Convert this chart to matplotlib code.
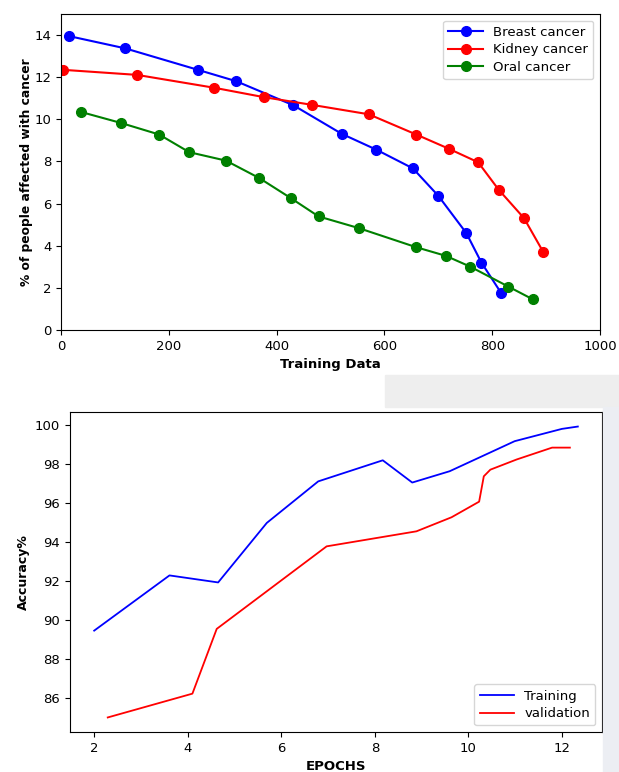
import numpy as np
import matplotlib.pyplot as plt
from matplotlib.patches import Rectangle

# cancer incidence vs. training data size
breast_x = [15, 119, 254, 325, 431, 521, 585, 653, 700, 752, 780, 817]
breast_y = [13.95, 13.37, 12.35, 11.81, 10.67, 9.31, 8.56, 7.67, 6.37, 4.60, 3.20, 1.74]

kidney_x = [4, 141, 284, 377, 465, 571, 659, 719, 774, 812, 859, 895]
kidney_y = [12.35, 12.11, 11.50, 11.05, 10.69, 10.24, 9.28, 8.61, 7.96, 6.66, 5.31, 3.69]

oral_x = [37, 111, 182, 238, 306, 368, 427, 478, 552, 659, 714, 759, 830, 875]
oral_y = [10.35, 9.83, 9.28, 8.44, 8.04, 7.21, 6.25, 5.39, 4.84, 3.93, 3.52, 3.01, 2.06, 1.46]

# accuracy per epoch
train_ep = [2.0, 3.61, 4.65, 5.69, 6.79, 8.17, 8.80, 9.60, 10.99, 12.0, 12.34]
train_acc = [89.47, 92.30, 91.94, 94.99, 97.12, 98.20, 97.06, 97.64, 99.18, 99.81, 99.93]

val_ep = [2.29, 4.10, 4.62, 6.97, 8.89, 9.64, 10.23, 10.33, 10.47, 11.03, 11.79, 12.17]
val_acc = [85.02, 86.24, 89.56, 93.79, 94.56, 95.28, 96.08, 97.38, 97.72, 98.24, 98.85, 98.85]

fig = plt.figure(figsize=(6.19, 7.72), dpi=100)
W, H = 619, 772

# faded backdrop behind the lower plot
fig.patches.append(Rectangle((385 / W, 1 - 407 / H), 234 / W, 32 / H,
                             transform=fig.transFigure, color='#eeeeee', zorder=0))
fig.patches.append(Rectangle((603 / W, 0), 16 / W, 1 - 407 / H,
                             transform=fig.transFigure, color='#eceef3', zorder=0))

ax1 = fig.add_axes([61 / W, 1 - 330 / H, 539 / W, 316 / H])
ax1.plot(breast_x, breast_y, 'o-', color='blue', label='Breast cancer', markersize=7, linewidth=1.5)
ax1.plot(kidney_x, kidney_y, 'o-', color='red', label='Kidney cancer', markersize=7, linewidth=1.5)
ax1.plot(oral_x, oral_y, 'o-', color='green', label='Oral cancer', markersize=7, linewidth=1.5)
ax1.set_xlim(0, 1000)
ax1.set_ylim(0, 15)
ax1.set_xlabel('Training Data', fontweight='bold', fontsize=9.5)
ax1.set_ylabel('% of people affected with cancer', fontweight='bold', fontsize=8.8, labelpad=1)
ax1.tick_params(labelsize=9.5)
ax1.legend(loc='upper right', fontsize=9.5, handlelength=2.6, labelspacing=0.35)

ax2 = fig.add_axes([70 / W, 1 - 732 / H, 532 / W, 320 / H])
ax2.plot(train_ep, train_acc, color='blue', label='Training', linewidth=1.3)
ax2.plot(val_ep, val_acc, color='red', label='validation', linewidth=1.3)
ax2.set_xticks([2, 4, 6, 8, 10, 12])
ax2.set_yticks(np.arange(86, 101, 2))
ax2.set_xlabel('EPOCHS', fontweight='bold', fontsize=9.5)
ax2.set_ylabel('Accuracy%', fontweight='bold', fontsize=9)
ax2.tick_params(labelsize=9.5)
ax2.legend(loc='lower right', fontsize=9.5, handlelength=2.6, labelspacing=0.35)

fig.savefig('out.png', dpi=100)
